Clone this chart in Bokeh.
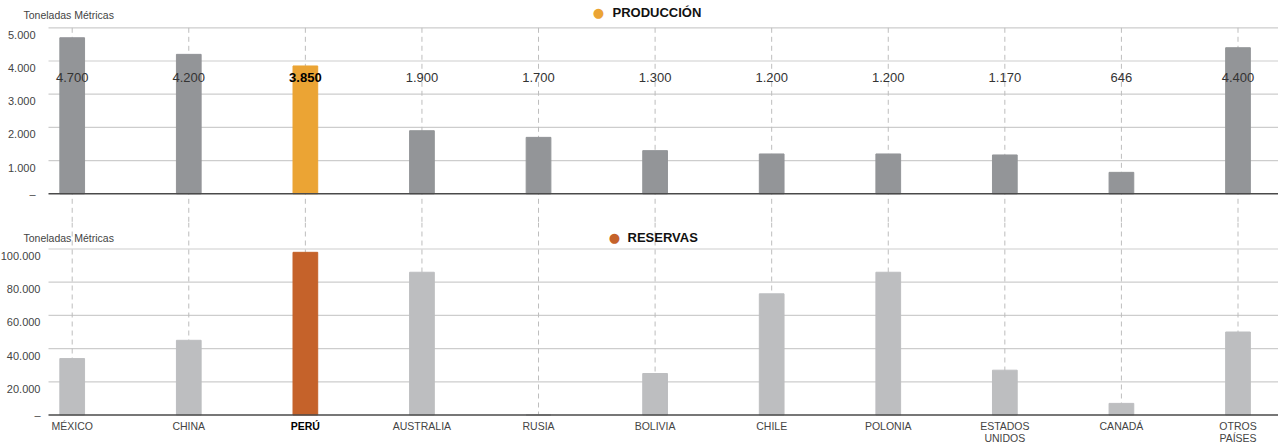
from bokeh.plotting import figure
from bokeh.models import Range1d, FixedTicker, ColumnDataSource, Label
from bokeh.layouts import column
from bokeh.embed import file_html
from bokeh.resources import INLINE
from bokeh.core.properties import value

# ---------------- data ----------------
categories = ["MÉXICO", "CHINA", "PERÚ", "AUSTRALIA", "RUSIA", "BOLIVIA",
              "CHILE", "POLONIA", "ESTADOS\nUNIDOS", "CANADÁ", "OTROS\nPAÍSES"]
produccion = [4700, 4200, 3850, 1900, 1700, 1300, 1200, 1200, 1170, 646, 4400]
reservas = [34000, 45000, 98000, 86000, 0, 25000, 73000, 86000, 27000, 7000, 50000]
prod_ticks = [0, 1000, 2000, 3000, 4000, 5000]
prod_tick_labels = ["–", "1.000", "2.000", "3.000", "4.000", "5.000"]
res_ticks = [0, 20000, 40000, 60000, 80000, 100000]
res_tick_labels = ["–", "20.000", "40.000", "60.000", "80.000", "100.000"]
highlight = "PERÚ"
unit_label = "Toneladas Métricas"
title_prod = "PRODUCCIÓN"
title_res = "RESERVAS"

# ---------------- style ----------------
FONT = "Liberation Sans"
W = 1278
LEFT = 48
H1 = 222
H2 = 221
GRAY_TOP = "#939598"
ORANGE = "#EBA434"
GRAY_BOT = "#BDBEC0"
RUST = "#C5622A"
GRID_COL = "#cdcdcd"
DASH_COL = "#bdbdbd"
BASE_COL = "#4a4a4a"
TXT = "#444444"

n = len(categories)
xs = list(range(n))
is_hi = [c == highlight for c in categories]
STEP = 116.58          # px per category
FIRST = 71.7           # px of first category centre
x_start = -FIRST / STEP
x_end = (W - FIRST) / STEP
axis_x = (LEFT - FIRST) / STEP
x_range = Range1d(x_start, x_end)
BAR_W = 0.212


def fmt(v):
    return f"{v:,}".replace(",", ".")


def make_fig(height, zero_px, px_per_unit):
    y_end = zero_px / px_per_unit
    y_start = -(height - zero_px) / px_per_unit
    p = figure(width=W, height=height, x_range=x_range,
               y_range=Range1d(y_start, y_end), output_backend="svg",
               toolbar_location=None, x_axis_location=None,
               min_border=0, min_border_left=0, min_border_right=0,
               min_border_top=0, min_border_bottom=0)
    p.outline_line_color = None
    p.background_fill_color = "white"
    p.border_fill_color = "white"
    p.xgrid.visible = False
    p.ygrid.visible = False
    p.yaxis.fixed_location = axis_x
    p.yaxis.axis_line_color = None
    p.yaxis.major_tick_line_color = None
    p.yaxis.minor_tick_line_color = None
    p.yaxis.major_label_text_font = FONT
    p.yaxis.major_label_text_font_size = "11px"
    p.yaxis.major_label_text_color = TXT
    return p, y_start, y_end


def set_ticks(p, ticks, labels, px_per_unit, standoff):
    off = int(round(7 / px_per_unit))
    shifted = [t - off if t else t for t in ticks]
    p.yaxis.ticker = FixedTicker(ticks=shifted)
    p.yaxis.major_label_overrides = {s: lab for s, lab in zip(shifted, labels)}
    p.yaxis.major_label_standoff = standoff
    grid = [t for t in ticks if t]
    m = len(grid)
    p.segment(x0=[axis_x] * m, y0=grid, x1=[x_end] * m, y1=grid,
              line_color=GRID_COL, line_width=1.2)


def add_titles(p, height, y_px, unit_y_px, dot_x, text_x, dot_color, title):
    p.add_layout(Label(x=23, y=height - unit_y_px, x_units="screen", y_units="screen",
                       text=unit_label, text_font=FONT, text_font_size="10.5px",
                       text_color=TXT, text_baseline="middle", text_align="left"))
    p.add_layout(Label(x=dot_x, y=height - y_px, x_units="screen", y_units="screen",
                       text="●", text_font="DejaVu Sans", text_font_size="13px",
                       text_color=dot_color, text_baseline="middle", text_align="center"))
    p.add_layout(Label(x=text_x, y=height - y_px, x_units="screen", y_units="screen",
                       text=title, text_font=FONT, text_font_size="13px",
                       text_font_style="bold", text_color="#111111",
                       text_baseline="middle", text_align="left"))


def baseline(p):
    p.segment(x0=[axis_x], y0=[0], x1=[x_end], y1=[0],
              line_color=BASE_COL, line_width=1.6)


# ---------------- top: producción ----------------
px1 = 33.2 / 1000
p1, y1s, y1e = make_fig(H1, 193.3, px1)
set_ticks(p1, prod_ticks, prod_tick_labels, px1, 7)

p1.segment(x0=xs, y0=[prod_ticks[-1]] * n, x1=xs, y1=[y1s] * n,
           line_color=DASH_COL, line_dash="5 4", line_width=1)
src1 = ColumnDataSource(dict(
    x=xs, top=produccion,
    color=[ORANGE if h else GRAY_TOP for h in is_hi],
    label=[fmt(v) for v in produccion],
    y=[3500] * n,
    style=["bold" if h else "normal" for h in is_hi],
    tcolor=["#000000" if h else "#333333" for h in is_hi],
))
p1.vbar(x="x", top="top", width=BAR_W, color="color", source=src1)
baseline(p1)
p1.text(x="x", y="y", text="label", source=src1, text_align="center",
        text_baseline="middle", text_font=value(FONT), text_font_size="13px",
        text_color="tcolor", text_font_style="style")
add_titles(p1, H1, 12.3, 14.7, 598, 612, ORANGE, title_prod)

# ---------------- bottom: reservas ----------------
px2 = 33.2 / 20000
p2, y2s, y2e = make_fig(H2, 192.5, px2)
set_ticks(p2, res_ticks, res_tick_labels, px2, 2)

p2.segment(x0=xs, y0=[y2e] * n, x1=xs, y1=[0] * n,
           line_color=DASH_COL, line_dash="5 4", line_width=1)
src2 = ColumnDataSource(dict(
    x=xs, top=reservas,
    color=[RUST if h else GRAY_BOT for h in is_hi],
    cat=categories,
    y=[-(197 - 192.5) / px2] * n,
    style=["bold" if h else "normal" for h in is_hi],
    tcolor=["#000000" if h else "#444444" for h in is_hi],
))
p2.vbar(x="x", top="top", width=BAR_W, color="color", source=src2)
baseline(p2)
p2.text(x="x", y="y", text="cat", source=src2, text_align="center",
        text_baseline="top", text_font=value(FONT), text_font_size="10.5px",
        text_color="tcolor", text_font_style="style", text_line_height=1.05)
add_titles(p2, H2, 15.3, 15.3, 614, 627, RUST, title_res)

layout = column(p1, p2, spacing=0)
open("out.html", "w").write(file_html(layout, INLINE))
